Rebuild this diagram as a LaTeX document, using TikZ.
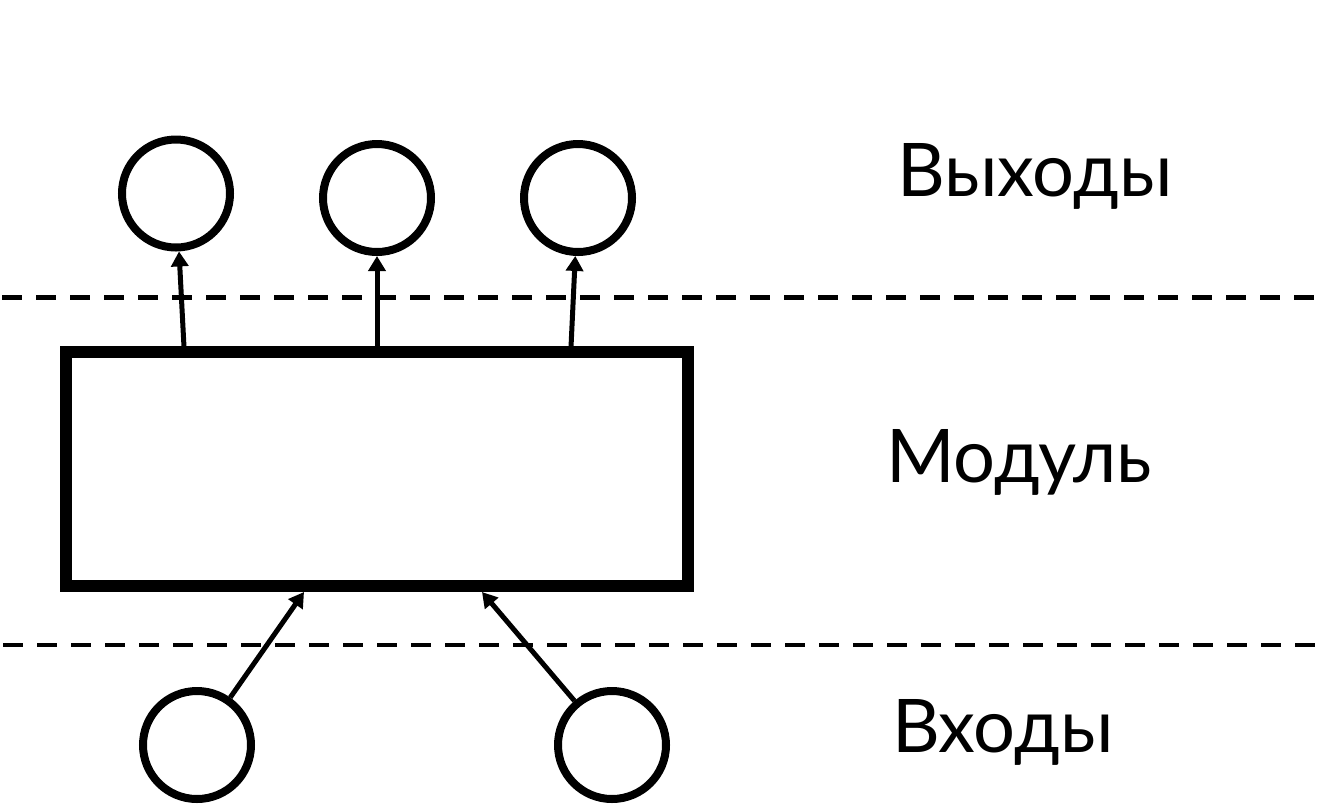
\documentclass[tikz,border=0pt]{standalone}
\usepackage{fontspec}
\newfontfamily\lblfont{Lato}
\usetikzlibrary{arrows.meta}
\begin{document}
\begin{tikzpicture}[x=1pt,y=-1pt,
  circ/.style={draw=black,circle,line width=8pt,minimum size=108pt,inner sep=0pt},
  modbox/.style={draw=black,line width=12pt,minimum width=622pt,minimum height=234pt,inner sep=0pt},
  arr/.style={line width=5pt,-{Triangle[length=15pt,width=17pt]}},
  sep/.style={line width=4.5pt,dash pattern=on 20pt off 14pt},
  lbl/.style={font=\lblfont\fontsize{74}{80}\selectfont,anchor=base west,inner sep=0pt}]
\useasboundingbox (0,0) rectangle (1327,804);
% separators
\coordinate (s1a) at (2,297.5); \coordinate (s1b) at (1327,297.5);
\coordinate (s2a) at (3,645); \coordinate (s2b) at (1327,645);
\draw[sep] (s1a) -- (s1b);
\draw[sep] (s2a) -- (s2b);
% module
\node[modbox] (mod) at (377,469) {};
% outputs
\node[circ] (c1) at (176,193.5) {};
\node[circ] (c2) at (377,198) {};
\node[circ] (c3) at (578,198) {};
% inputs
\node[circ] (i1) at (197,745) {};
\node[circ] (i2) at (612,745) {};
% anchor points on module
\coordinate (o1) at (184,347);
\coordinate (o2) at (377,347);
\coordinate (o3) at (571,347);
\coordinate (n1) at (304,592);
\coordinate (n2) at (482,592);
\draw[arr] (o1) -- (c1);
\draw[arr] (o2) -- (c2);
\draw[arr] (o3) -- (c3);
\draw[arr] (i1) -- (n1);
\draw[arr] (i2) -- (n2);
% labels
\node[lbl] (t1) at (897,196) {Выходы};
\node[lbl] (t2) at (886,482) {Модуль};
\node[lbl] (t3) at (892,752) {Входы};
\end{tikzpicture}
\end{document}
